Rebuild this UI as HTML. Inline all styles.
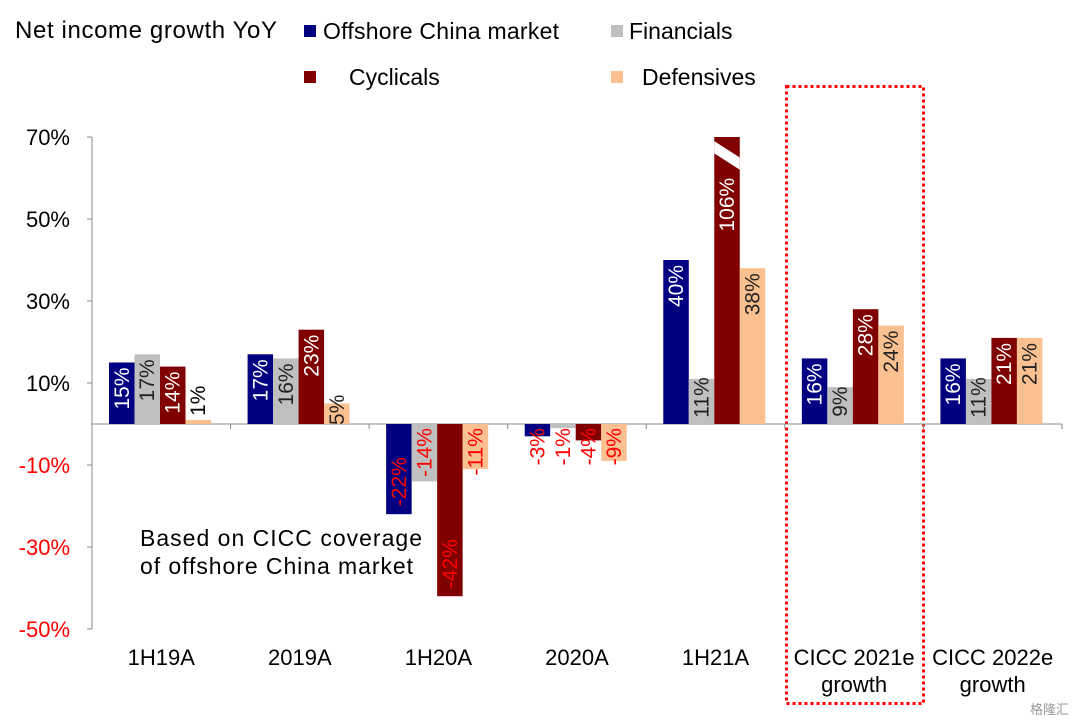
<!DOCTYPE html>
<html><head><meta charset="utf-8">
<style>
body{margin:0;background:#fff;}
svg{display:block;font-family:"Liberation Sans",Arial,sans-serif;}
</style></head>
<body>
<svg id="chart" width="1080" height="723" viewBox="0 0 1080 723" xmlns="http://www.w3.org/2000/svg">
<text x="15" y="38" font-size="24" fill="#000" textLength="262">Net income growth YoY</text>
<g>
<rect x="304" y="25" width="12" height="12" fill="#000080"/>
<text x="323" y="39" font-size="23" textLength="236">Offshore China market</text>
<rect x="611" y="25" width="12" height="12" fill="#bfbfbf"/>
<text x="629" y="39" font-size="23">Financials</text>
<rect x="304" y="71" width="12" height="12" fill="#800000"/>
<text x="349" y="85" font-size="23">Cyclicals</text>
<rect x="611" y="71" width="12" height="12" fill="#fac090"/>
<text x="642" y="85" font-size="23">Defensives</text>
</g>
<rect x="786.5" y="86.5" width="137" height="617" fill="none" stroke="#ff0000" stroke-width="3" stroke-dasharray="3,3"/>
<text x="140" y="546" font-size="23" textLength="282">Based on CICC coverage</text>
<text x="140" y="574" font-size="23" textLength="273">of offshore China market</text>
<g id="plot"></g>
<text x="1030" y="714" font-size="13" fill="#999">格隆汇</text>
</svg>
<script>
const categories=["1H19A","2019A","1H20A","2020A","1H21A","CICC 2021e|growth","CICC 2022e|growth"];
const offshore=[15,17,-22,-3,40,16,16];
const financials=[17,16,-14,-1,11,9,11];
const cyclicals=[14,23,-42,-4,106,28,21];
const defensives=[1,5,-11,-9,38,24,21];
const yTicks=[70,50,30,10,-10,-30,-50];
const seriesNames=["offshore","financials","cyclicals","defensives"];

(function(){
const NS="http://www.w3.org/2000/svg";
const plot=document.getElementById('plot');
const yMax=70,yMin=-50,pTop=137,pBot=629,axisX=92,catW=138.57;
function y(v){return pTop+(yMax-v)*(pBot-pTop)/(yMax-yMin);}
function cx(i){return axisX+i*catW;}
function mk(t,a){const e=document.createElementNS(NS,t);for(const k in a)e.setAttribute(k,a[k]);plot.appendChild(e);return e;}
const y0=y(0);
let ax=mk('line',{x1:axisX,y1:pTop,x2:axisX,y2:pBot,stroke:'#888','stroke-width':1});


yTicks.forEach(t=>{
 const tk=mk('line',{x1:axisX-5,x2:axisX,y1:y(t),y2:y(t),stroke:'#888'});
 
 
 const lb=mk('text',{x:70,y:y(t)+8,'text-anchor':'end','font-size':22,fill:t<0?'#ff0000':'#000'});
 lb.textContent=t+'%';
 
 
});
let xa=mk('line',{x1:axisX,y1:y0,x2:cx(7),y2:y0,stroke:'#888'});


for(let i=1;i<=7;i++){
 const tk=mk('line',{x1:cx(i),x2:cx(i),y1:y0,y2:y0+5,stroke:'#888'});
 
 
}
categories.forEach((c,i)=>{
 const parts=c.split('|');
 parts.forEach((p,j)=>{
  const t=mk('text',{x:cx(i)+catW/2,y:665+j*27,'text-anchor':'middle','font-size':22});
  t.textContent=p;
  
  
 });
});
const data=[offshore,financials,cyclicals,defensives];
const colors=['#000080','#bfbfbf','#800000','#fac090'];
const inText=['#fff','#222','#fff','#222'];
const bw=25.5,off=17;
data.forEach((s,k)=>{
 s.forEach((v,i)=>{
  const x=cx(i)+off+k*bw;
  const vc=Math.min(v,yMax);
  const yt=y(Math.max(vc,0)),yb=y(Math.min(vc,0));
  const r=mk('rect',{x:x,y:yt,width:bw,height:Math.max(yb-yt,0.5),fill:colors[k]});
  
  
  if(v>yMax){
   const sl=mk('polygon',{points:`${x},${y(69)} ${x},${y(66)} ${x+bw},${y(62)} ${x+bw},${y(65)}`,fill:'#fff'});
   
   
  }
  const cxm=x+bw/2+7;
  const lb=mk('text',{'font-size':21});
  lb.textContent=v+'%';
  
  
  let tl=lb.getComputedTextLength()||String(v).length*12+18;
  const len=yb-yt;
  let ty,anchor,fill;
  if(v>=0){
   if(v>yMax){ty=y(62)+8;anchor='end';fill=inText[k];}
   else if(len>=tl+8){ty=yt+5;anchor='end';fill=inText[k];}
   else if(len>20){ty=yt+len/2-4;anchor='middle';fill=inText[k];}
   else{ty=yt-4;anchor='start';fill='#000';}
  }else{
   fill='#ff0000';
   if(len>tl+16){ty=yb-8;anchor='start';}
   else{ty=y0+4;anchor='end';}
  }
  lb.setAttribute('x',cxm);lb.setAttribute('y',ty);
  lb.setAttribute('text-anchor',anchor);lb.setAttribute('fill',fill);
  lb.setAttribute('transform',`rotate(-90 ${cxm} ${ty})`);
 });
});
})();
</script>
</body></html>
